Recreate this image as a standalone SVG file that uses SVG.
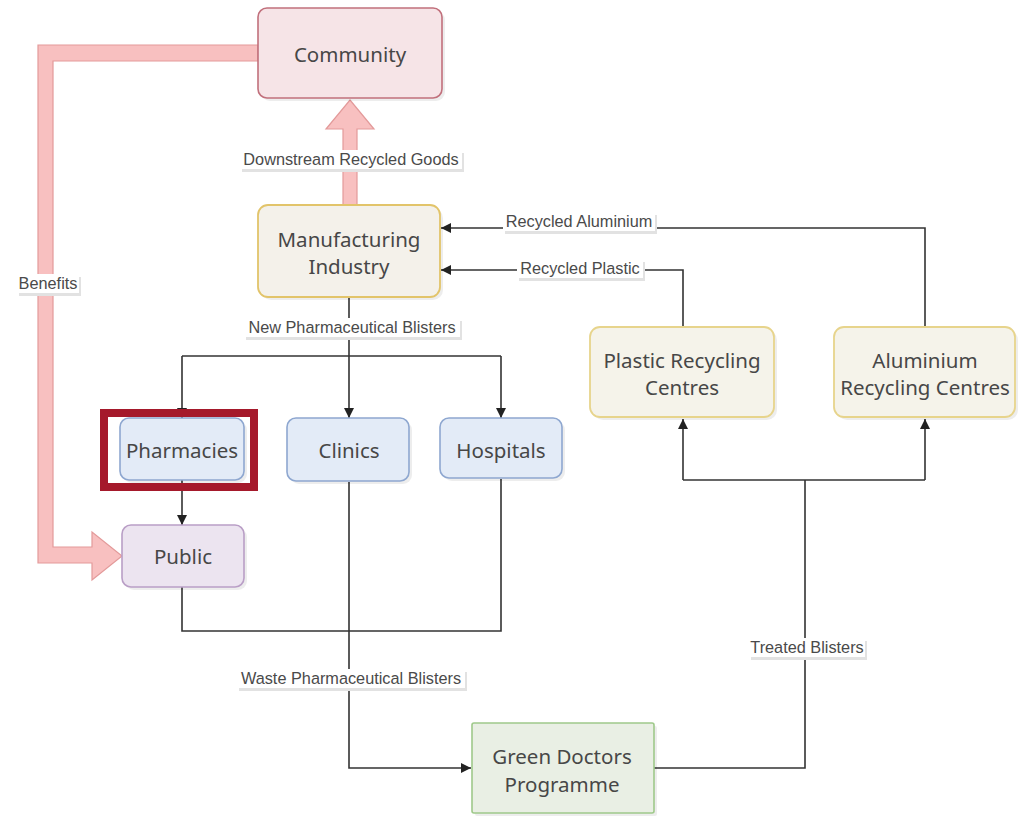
<svg xmlns="http://www.w3.org/2000/svg" width="1028" height="816" viewBox="0 0 1028 816">
<defs>
<style>
.nt{font-family:"Noto Sans","Open Sans",sans-serif;font-size:20.5px;fill:#474747;text-anchor:middle}
.lt{font-family:"Liberation Sans",Arial,sans-serif;font-size:16.3px;fill:#4a4a4a;text-anchor:middle}
.lbg{fill:#fff}
.lsh{fill:#e2e2e2}
.sh{fill:#000;opacity:0.07}
.ln{fill:none;stroke:#333;stroke-width:1.6}
.pink{fill:#f8c0c0;stroke:#e39a9a;stroke-width:1.2}
.red{fill:#f6e4e7;stroke:#c1707c;stroke-width:1.6}
.yel{fill:#f4f1ea;stroke:#e2c46a;stroke-width:1.8}
.yel2{fill:#f5f3ea;stroke:#e7d48c;stroke-width:1.8}
.blu{fill:#e3ebf7;stroke:#8ea7d0;stroke-width:1.6}
.pur{fill:#ece4f0;stroke:#b99ec6;stroke-width:1.6}
.grn{fill:#e9efe4;stroke:#9fc98a;stroke-width:1.6}
</style>
<marker id="ah" viewBox="0 0 10 10" refX="10" refY="5" markerWidth="10" markerHeight="10" markerUnits="userSpaceOnUse" orient="auto">
<path d="M0,0 L10,5 L0,10 z" fill="#222"/>
</marker>
</defs>
<rect width="1028" height="816" fill="#fff"/>

<g id="connectors">
<polygon class="pink" points="343,205 343,129 326,129 350,100 374,129 357,129 357,205"/>
<polygon class="pink" points="258,45 38,45 38,563 92,563 92,580 122,556 92,532 92,547 53,547 53,61 258,61"/>
<path class="ln" d="M349,297 V356"/>
<path class="ln" d="M182,356 H501"/>
<path class="ln" d="M182,356 V418" marker-end="url(#ah)"/>
<path class="ln" d="M349,356 V418" marker-end="url(#ah)"/>
<path class="ln" d="M501,356 V418" marker-end="url(#ah)"/>
<path class="ln" d="M182,480 V525" marker-end="url(#ah)"/>
<path class="ln" d="M182,587 V631 H501 V479"/>
<path class="ln" d="M349,482 V768 H471" marker-end="url(#ah)"/>
<path class="ln" d="M654,768 H805 V480"/>
<path class="ln" d="M683,480 H925"/>
<path class="ln" d="M683,480 V419" marker-end="url(#ah)"/>
<path class="ln" d="M925,480 V419" marker-end="url(#ah)"/>
<path class="ln" d="M925,327 V228 H441" marker-end="url(#ah)"/>
<path class="ln" d="M683,327 V270 H441" marker-end="url(#ah)"/>
</g>

<g id="labels">
<g id="lbl-downstream"><rect class="lsh" x="242" y="153" width="222" height="19"/><rect class="lbg" x="240" y="150" width="222" height="19"/><text class="lt" x="351" y="165">Downstream Recycled Goods</text></g>
<g id="lbl-benefits"><rect class="lsh" x="19" y="277" width="62" height="19"/><rect class="lbg" x="17" y="274" width="62" height="19"/><text class="lt" x="48" y="289">Benefits</text></g>
<g id="lbl-newblisters"><rect class="lsh" x="246" y="321" width="216" height="19"/><rect class="lbg" x="244" y="318" width="216" height="19"/><text class="lt" x="352" y="333">New Pharmaceutical Blisters</text></g>
<g id="lbl-alu"><rect class="lsh" x="505" y="215" width="152" height="19"/><rect class="lbg" x="503" y="212" width="152" height="19"/><text class="lt" x="579" y="227">Recycled Aluminium</text></g>
<g id="lbl-plastic"><rect class="lsh" x="519" y="262" width="126" height="19"/><rect class="lbg" x="517" y="259" width="126" height="19"/><text class="lt" x="580" y="274">Recycled Plastic</text></g>
<g id="lbl-waste"><rect class="lsh" x="239" y="672" width="228" height="19"/><rect class="lbg" x="237" y="669" width="228" height="19"/><text class="lt" x="351" y="684">Waste Pharmaceutical Blisters</text></g>
<g id="lbl-treated"><rect class="lsh" x="751" y="641" width="116" height="19"/><rect class="lbg" x="749" y="638" width="116" height="19"/><text class="lt" x="807" y="653">Treated Blisters</text></g>
</g>

<g id="community"><rect class="sh" x="261" y="11" width="184" height="90" rx="9"/><rect class="red" x="258" y="8" width="184" height="90" rx="9"/><text class="nt" x="350" y="62">Community</text></g>
<g id="manufacturing"><rect class="sh" x="261" y="208" width="182" height="92" rx="10"/><rect class="yel" x="258" y="205" width="182" height="92" rx="10"/><text class="nt" x="349" y="247">Manufacturing</text><text class="nt" x="349" y="274">Industry</text></g>
<g id="pharmacies"><rect class="sh" x="123" y="421" width="124" height="62" rx="9"/><rect class="blu" x="120" y="418" width="124" height="62" rx="9"/><text class="nt" x="182" y="458">Pharmacies</text></g>
<g id="clinics"><rect class="sh" x="290" y="421" width="122" height="63" rx="9"/><rect class="blu" x="287" y="418" width="122" height="63" rx="9"/><text class="nt" x="349" y="458">Clinics</text></g>
<g id="hospitals"><rect class="sh" x="443" y="421" width="122" height="60" rx="9"/><rect class="blu" x="440" y="418" width="122" height="60" rx="9"/><text class="nt" x="501" y="458">Hospitals</text></g>
<g id="public"><rect class="sh" x="125" y="528" width="122" height="62" rx="9"/><rect class="pur" x="122" y="525" width="122" height="62" rx="9"/><text class="nt" x="183" y="564">Public</text></g>
<g id="plastic"><rect class="sh" x="593" y="330" width="184" height="90" rx="10"/><rect class="yel2" x="590" y="327" width="184" height="90" rx="10"/><text class="nt" x="682" y="368">Plastic Recycling</text><text class="nt" x="682" y="395">Centres</text></g>
<g id="aluminium"><rect class="sh" x="837" y="330" width="181" height="90" rx="10"/><rect class="yel2" x="834" y="327" width="181" height="90" rx="10"/><text class="nt" x="925" y="368">Aluminium</text><text class="nt" x="925" y="395">Recycling Centres</text></g>
<g id="greendoctors"><rect class="sh" x="475" y="726" width="182" height="90" rx="2"/><rect class="grn" x="472" y="723" width="182" height="90" rx="2"/><text class="nt" x="562" y="764">Green Doctors</text><text class="nt" x="562" y="792">Programme</text></g>

<g id="highlight"><rect x="104" y="413" width="150" height="74" fill="none" stroke="#a5192b" stroke-width="8"/></g>
</svg>
